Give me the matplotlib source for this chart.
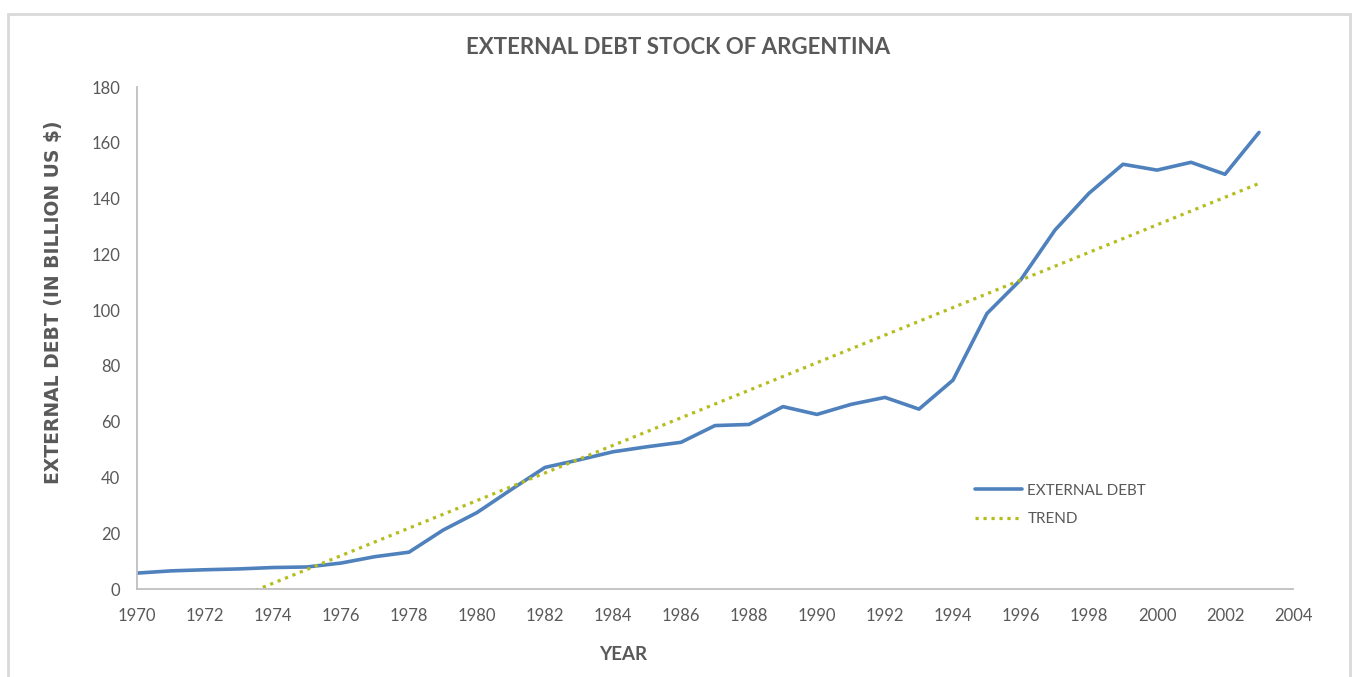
import matplotlib.pyplot as plt
import matplotlib.patches as patches
import numpy as np

# Argentina external debt stock, billion US$
years = list(range(1970, 2004))
debt = [5.7, 6.5, 6.9, 7.2, 7.7, 7.9, 9.3, 11.6, 13.2, 21.1,
        27.4, 35.6, 43.6, 46.3, 49.2, 51.0, 52.6, 58.6, 59.0, 65.4,
        62.6, 66.2, 68.7, 64.5, 74.9, 98.8, 111.0, 128.7, 141.9, 152.3,
        150.2, 153.0, 148.7, 163.7]
xticks = list(range(1970, 2005, 2))
yticks = list(range(0, 181, 20))

body = ['Lato', 'DejaVu Sans']
gray = '#595959'

fig = plt.figure(figsize=(13.56, 6.77), dpi=100)
ax = fig.add_axes([137 / 1356, 88 / 677, (1293 - 137) / 1356, (589 - 87) / 677])

# light frame around the whole chart
fig.patches.append(patches.Rectangle((8 / 1356, -0.05), (1350 - 8) / 1356, (670 - 7) / 677 + 0.05,
                                     transform=fig.transFigure, fill=False,
                                     edgecolor='#d9d9d9', linewidth=2))

x = np.array(years)
y = np.array(debt)
coef = np.polyfit(x, y, 1)
trend = np.polyval(coef, x)

ax.plot(x, y, color='#4f81bd', linewidth=2.6, label='EXTERNAL DEBT', solid_capstyle='round')
ax.plot(x, trend, color='#b5bd1e', linewidth=2.3, linestyle=(0, (1, 1.5)), label='TREND')

ax.set_xlim(1970, 2004)
ax.set_ylim(0, 180)
ax.set_xticks(xticks)
ax.set_yticks(yticks)
ax.tick_params(length=0, labelsize=12, labelcolor=gray)
ax.tick_params(axis='x', pad=14)
ax.tick_params(axis='y', pad=12)
for lbl in ax.get_xticklabels() + ax.get_yticklabels():
    lbl.set_family(body)

for side in ['top', 'right']:
    ax.spines[side].set_visible(False)
for side in ['left', 'bottom']:
    ax.spines[side].set_color('#bfbfbf')
    ax.spines[side].set_linewidth(1.3)

fig.text(0.5, 1 - 47 / 677, 'EXTERNAL DEBT STOCK OF ARGENTINA', ha='center', va='center',
         fontsize=16, fontweight='bold', color=gray, family=body)
fig.text(623 / 1356, 1 - 654 / 677, 'YEAR', ha='center', va='center',
         fontsize=13.5, fontweight='bold', color=gray, family=body)
fig.text(53 / 1356, 1 - 302 / 677, 'EXTERNAL DEBT (IN BILLION US $)', ha='center', va='center',
         rotation=90, fontsize=13.5, fontweight='bold', color=gray, family=['DejaVu Sans'])

leg = ax.legend(loc='upper left', bbox_to_anchor=((961 - 137) / 1156, (589 - 470) / 502),
                frameon=False, handlelength=3.1, handletextpad=0.35, labelspacing=0.95,
                prop={'family': body, 'size': 11})
for t in leg.get_texts():
    t.set_color(gray)

fig.savefig('out.png', dpi=100, facecolor='white')
